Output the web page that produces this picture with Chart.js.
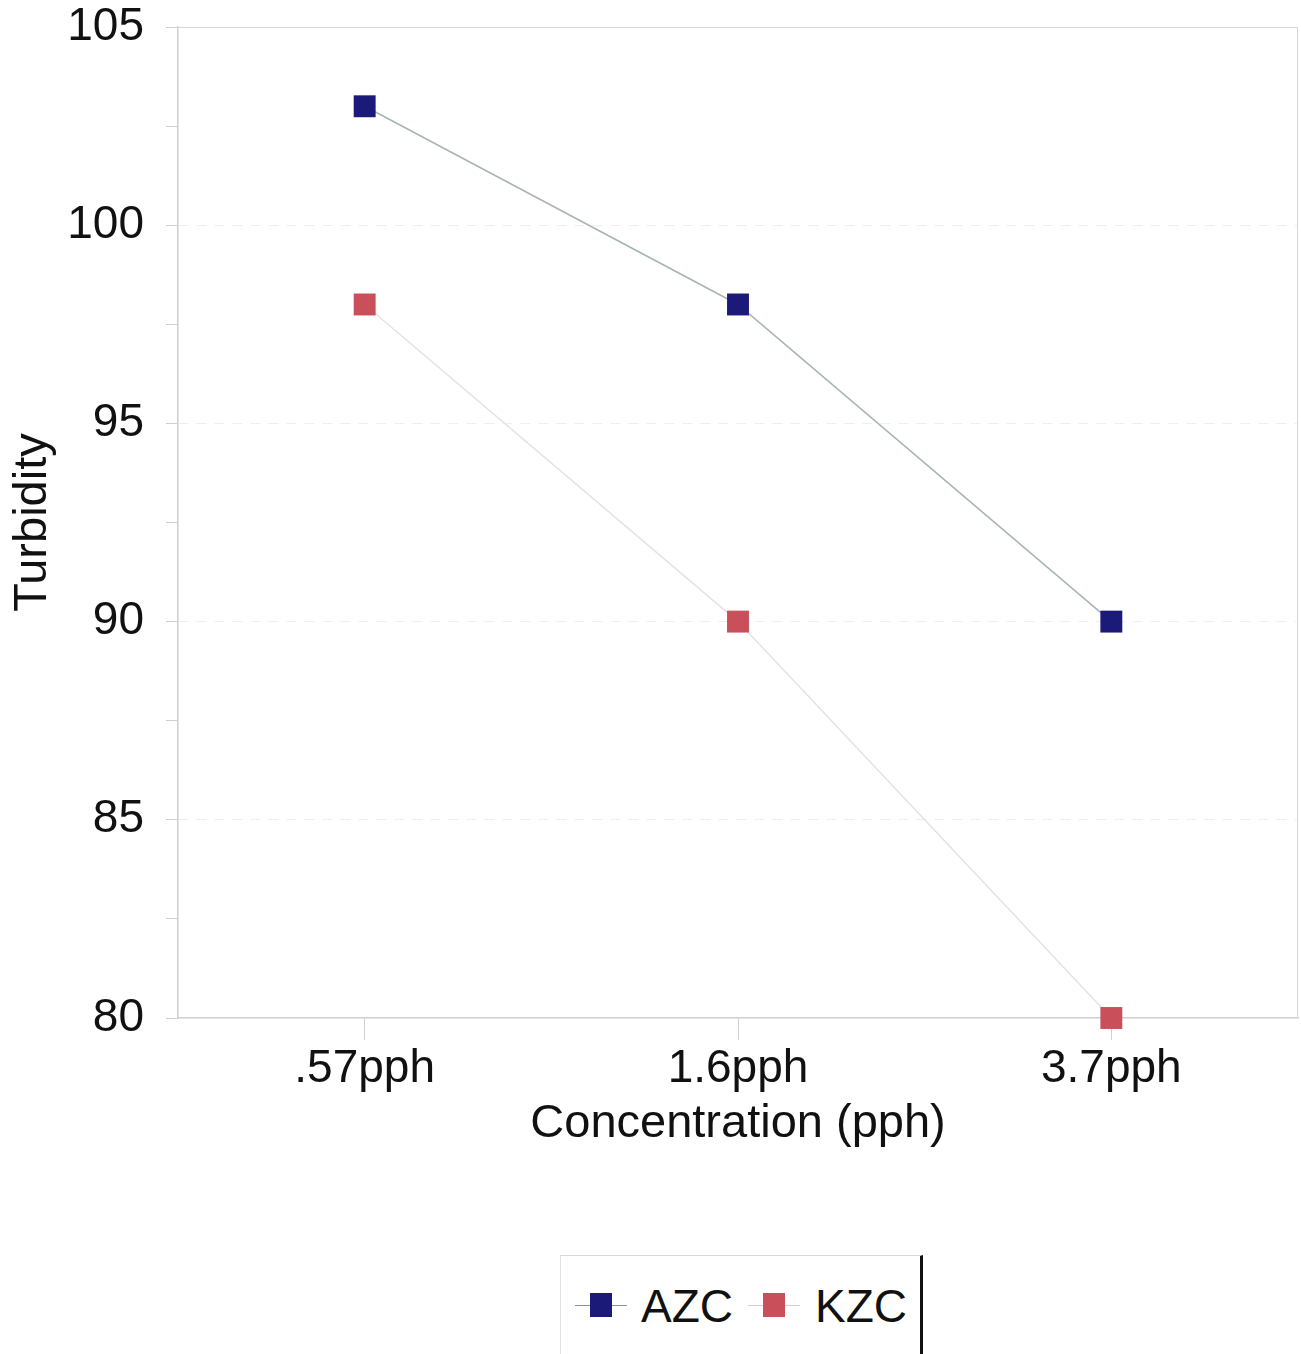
<!DOCTYPE html>
<html>
<head>
<meta charset="utf-8">
<script src="https://cdn.jsdelivr.net/npm/chart.js@4"></script>
<style>
  html, body { margin: 0; padding: 0; background: #fff; }
  body { width: 1301px; height: 1354px; position: relative; overflow: hidden; font-family: "Liberation Sans", Arial, sans-serif; }
  #chart { position: absolute; left: 0; top: 0; }
  #legend {
    position: absolute; left: 560px; top: 1255px; width: 363px; height: 110px;
    border-top: 1px solid #d8d8d8; border-left: 1px solid #e2e2e2;
    border-right: 3px solid #111; box-sizing: border-box;
  }
  .item { position: absolute; top: 22px; height: 56px; font-size: 46px; line-height: 56px; color: #111; }
  .mark { position: absolute; top: 27px; height: 1px; width: 52px; }
  .mark i { position: absolute; left: 15px; top: -12px; width: 22px; height: 24px; }
</style>
</head>
<body>
<canvas id="chart" width="1301" height="1240"></canvas>
<div id="legend"></div>
<script>
(() => {
  "use strict";

  // Data
  const categories = [".57pph", "1.6pph", "3.7pph"];
  const azc = [103, 98, 90];
  const kzc = [98, 90, 80];
  const seriesNames = ["AZC", "KZC"];
  const markerColors = ["#1c1a78", "#c9505a"];
  const lineColors = ["#a9b3b3", "#e4e2e2"];
  const legendLineColors = ["#8a9494", "#e0c8c8"];

  const font = "'Liberation Sans', Arial, sans-serif";

  // light frame round the plot area
  const frame = {
    id: "frame",
    beforeDatasetsDraw(chart) {
      const { ctx, chartArea: a } = chart;
      ctx.save();
      ctx.strokeStyle = "#d6d6d6";
      ctx.lineWidth = 1;
      ctx.beginPath();
      ctx.moveTo(a.left, a.top + 0.5);
      ctx.lineTo(a.right - 0.5, a.top + 0.5);
      ctx.lineTo(a.right - 0.5, a.bottom);
      ctx.stroke();
      ctx.restore();
    }
  };

  const ds = (i, data) => ({
    label: seriesNames[i],
    data,
    borderColor: lineColors[i],
    borderWidth: 1.5,
    backgroundColor: markerColors[i],
    pointBackgroundColor: markerColors[i],
    pointBorderColor: markerColors[i],
    pointBorderWidth: 0,
    pointStyle: "rect",
    pointRadius: 15.5,
    tension: 0,
    clip: false
  });

  new Chart(document.getElementById("chart"), {
    type: "line",
    data: { labels: categories, datasets: [ds(0, azc), ds(1, kzc)] },
    plugins: [frame],
    options: {
      responsive: false,
      animation: false,
      layout: { autoPadding: false, padding: { top: 27, right: 3, left: 0, bottom: 0 } },
      plugins: { legend: { display: false }, tooltip: { enabled: false } },
      scales: {
        x: {
          offset: true,
          afterFit: s => { s.height = 222; s.paddingLeft = 0; s.paddingRight = 0; },
          grid: {
            offset: false, drawOnChartArea: false, drawTicks: true,
            tickLength: 22, tickColor: "#d0d0d0", color: "#d0d0d0"
          },
          border: { display: true, color: "#cfcfcf", width: 1.5 },
          ticks: { color: "#111", font: { family: font, size: 46 }, padding: 2 },
          title: {
            display: true, text: "Concentration (pph)", color: "#111",
            font: { family: font, size: 47 }, padding: { top: 0, bottom: 88 }
          }
        },
        y: {
          min: 80, max: 105,
          afterFit: s => { s.width = 178; s.paddingTop = 0; s.paddingBottom = 0; },
          ticks: {
            stepSize: 2.5, color: "#111", padding: 22,
            font: { family: font, size: 46 },
            callback: v => (v % 5 === 0 ? String(v) : "")
          },
          grid: {
            drawTicks: true, tickLength: 12,
            tickColor: "#cfcfcf",
            color: c => {
              const v = c.tick && c.tick.value;
              return (v % 5 === 0 && v > 80 && v < 105) ? "#efefef" : "rgba(0,0,0,0)";
            }
          },
          border: { display: true, color: "#cfcfcf", width: 1.5, dash: [10, 8] },
          title: {
            display: true, text: "Turbidity", color: "#111",
            font: { family: font, size: 47 }, padding: { top: 5, bottom: 0 }
          }
        }
      }
    }
  });

  // legend below the chart
  const legend = document.getElementById("legend");
  const lefts = [[14, 80], [187, 254]];
  seriesNames.forEach((name, i) => {
    const m = document.createElement("div");
    m.className = "mark";
    m.style.left = lefts[i][0] + "px";
    m.style.top = "49px";
    m.style.background = legendLineColors[i];
    const sq = document.createElement("i");
    sq.style.background = markerColors[i];
    m.appendChild(sq);
    legend.appendChild(m);
    const t = document.createElement("div");
    t.className = "item";
    t.style.left = lefts[i][1] + "px";
    t.textContent = name;
    legend.appendChild(t);
  });
})();
</script>
</body>
</html>
